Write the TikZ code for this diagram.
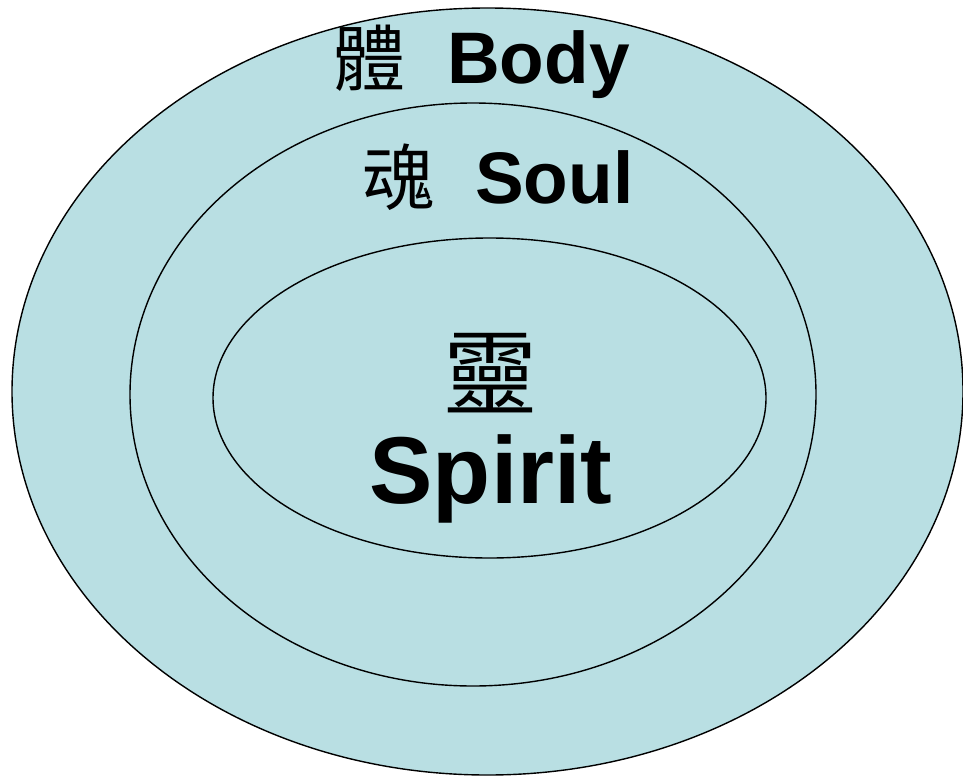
\documentclass[tikz,border=0pt]{standalone}
\usepackage{fontspec}
\setmainfont{Liberation Sans}
\newfontfamily\cjk{Noto Sans CJK TC}
\definecolor{ringfill}{RGB}{185,223,227}
\begin{document}
\begin{tikzpicture}[x=1pt,y=-1pt,
  ring/.style={draw=black,line width=1.4pt,fill=ringfill},
  eng/.style={font=\fontsize{73}{73}\selectfont\bfseries,inner sep=0pt,anchor=base west},
  han/.style={font=\cjk\fontsize{72}{72}\selectfont,inner sep=0pt}]
\useasboundingbox (0,0) rectangle (963,776);
\draw[ring] (487.5,391.5) ellipse [x radius=475.5,y radius=383.5];
\draw[ring] (473,394.5) ellipse [x radius=343,y radius=291.5];
\draw[ring] (489.5,398) ellipse [x radius=276.5,y radius=160];
\node[han] (bodyzh) at (369,58) {體};
\node[eng] (bodyen) at (447,83) {Body};
\node[han] (soulzh) at (398,177) {魂};
\node[eng] (soulen) at (475,203) {Soul};
\node[han,font=\cjk\fontsize{94}{94}\selectfont] (spiritzh) at (490,373) {靈};
\node[eng,font=\fontsize{95}{95}\selectfont\bfseries,anchor=base] (spiriten) at (491,503) {Spirit};
\end{tikzpicture}
\end{document}
